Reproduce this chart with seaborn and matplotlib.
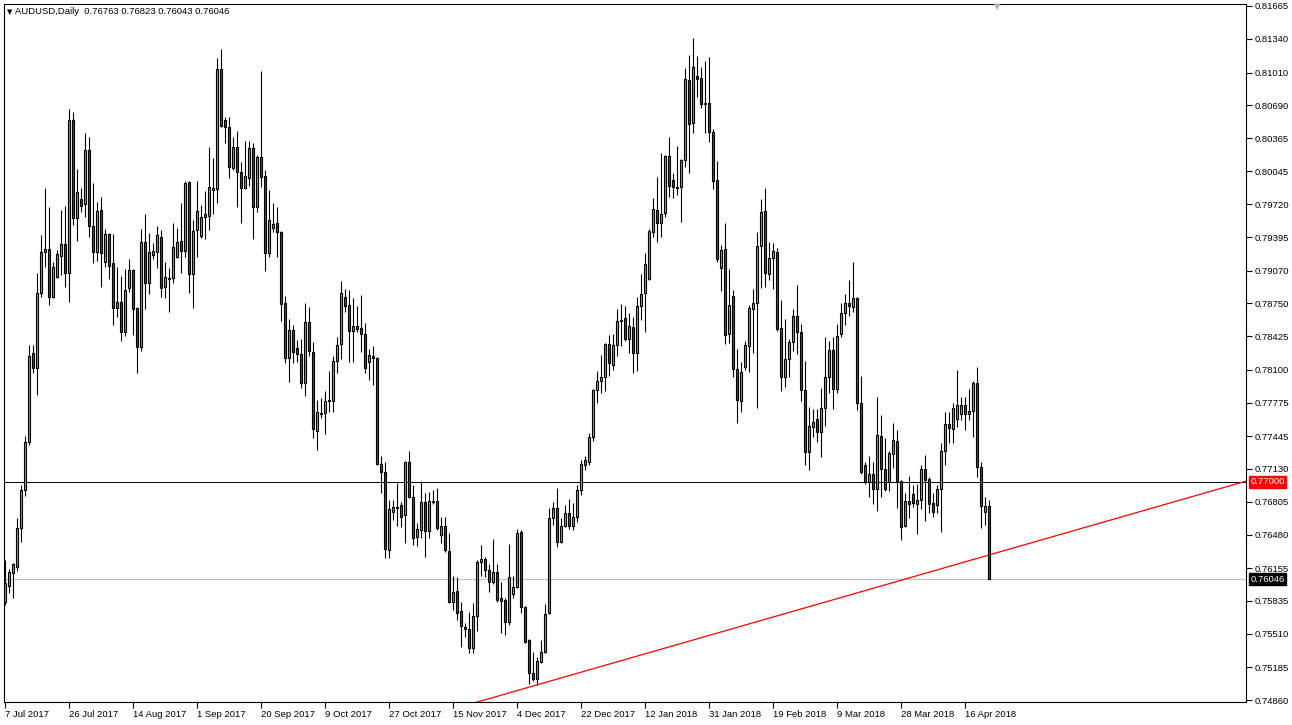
import numpy as np
import matplotlib
matplotlib.use("Agg")
import matplotlib.pyplot as plt
import seaborn as sns

# ---------------- data ----------------
symbol_title = "AUDUSD,Daily"
last_ohlc = [0.76763, 0.76823, 0.76043, 0.76046]

open_ = [0.7582,0.7598,0.7611,0.7617,0.7655,0.7692,0.7739,0.7826,0.7812,0.7885,
0.7925,0.7928,0.7881,0.7901,0.7921,0.7933,0.7905,0.8055,0.7959,0.7977,
0.7972,0.8025,0.7951,0.7925,0.7966,0.7915,0.7943,0.7914,0.7870,0.7876,
0.7847,0.7890,0.7908,0.7870,0.7832,0.7935,0.7895,0.7922,0.7925,0.7940,
0.7891,0.7899,0.7900,0.7920,0.7936,0.7926,0.7994,0.7904,0.7947,0.7941,
0.7960,0.7961,0.7986,0.7987,0.8105,0.8055,0.8048,0.8008,0.8028,0.8004,
0.7988,0.7998,0.8027,0.7969,0.8018,0.8000,0.7924,0.7949,0.7954,0.7945,
0.7875,0.7821,0.7849,0.7831,0.7825,0.7797,0.7857,0.7827,0.7750,0.7767,
0.7767,0.7779,0.7779,0.7818,0.7835,0.7881,0.7873,0.7848,0.7853,0.7851,
0.7845,0.7817,0.7823,0.7821,0.7717,0.7710,0.7633,0.7670,0.7675,0.7677,
0.7667,0.7719,0.7685,0.7646,0.7653,0.7680,0.7652,0.7681,0.7681,0.7648,
0.7657,0.7632,0.7582,0.7593,0.7573,0.7558,0.7556,0.7537,0.7568,0.7621,
0.7624,0.7614,0.7602,0.7612,0.7586,0.7584,0.7563,0.7590,0.7597,0.7651,
0.7577,0.7545,0.7513,0.7507,0.7523,0.7533,0.7571,0.7665,0.7674,0.7641,
0.7657,0.7669,0.7657,0.7666,0.7692,0.7716,0.7719,0.7744,0.7790,0.7799,
0.7803,0.7835,0.7814,0.7834,0.7858,0.7861,0.7840,0.7852,0.7826,0.7872,
0.7885,0.7899,0.7945,0.7966,0.7954,0.7963,0.8019,0.7996,0.7988,0.7989,
0.8015,0.8094,0.8052,0.8098,0.8096,0.8071,0.8071,0.8043,0.7996,0.7910,
0.7928,0.7845,0.7882,0.7811,0.7779,0.7813,0.7833,0.7869,0.7875,0.7931,
0.7965,0.7904,0.7919,0.7925,0.7851,0.7803,0.7820,0.7837,0.7863,0.7847,
0.7790,0.7729,0.7754,0.7762,0.7749,0.7772,0.7803,0.7829,0.7791,0.7845,
0.7865,0.7875,0.7871,0.7880,0.7777,0.7716,0.7700,0.7708,0.7693,0.7745,
0.7713,0.7700,0.7727,0.7740,0.7701,0.7657,0.7681,0.7688,0.7678,0.7682,
0.7713,0.7703,0.7679,0.7677,0.7693,0.7730,0.7757,0.7752,0.7762,0.7766,
0.7775,0.7766,0.7769,0.7797,0.7715,0.7670,0.76763]

high = [0.7623,0.7615,0.7620,0.7665,0.7697,0.7745,0.7834,0.7834,0.7905,0.7942,
0.7988,0.7969,0.7915,0.7927,0.7966,0.7970,0.8065,0.8062,0.8007,0.7988,
0.8042,0.8038,0.7993,0.7974,0.7979,0.7948,0.7944,0.7943,0.7911,0.7902,
0.7909,0.7918,0.7909,0.7871,0.7948,0.7962,0.7944,0.7934,0.7951,0.7947,
0.7915,0.7910,0.7954,0.7949,0.7973,0.7995,0.7995,0.7957,0.7995,0.7971,
0.7985,0.8028,0.8017,0.8115,0.8124,0.8058,0.8058,0.8038,0.8044,0.8013,
0.8034,0.8034,0.8032,0.8020,0.8103,0.8006,0.7986,0.7973,0.7969,0.7946,
0.7882,0.7860,0.7854,0.7839,0.7840,0.7875,0.7871,0.7837,0.7780,0.7782,
0.7789,0.7809,0.7823,0.7842,0.7897,0.7889,0.7888,0.7880,0.7872,0.7883,
0.7856,0.7830,0.7833,0.7822,0.7725,0.7719,0.7682,0.7682,0.7699,0.7680,
0.7720,0.7730,0.7697,0.7660,0.7701,0.7689,0.7690,0.7692,0.7694,0.7666,
0.7666,0.7650,0.7608,0.7607,0.7582,0.7562,0.7572,0.7581,0.7623,0.7638,
0.7626,0.7619,0.7644,0.7619,0.7602,0.7586,0.7639,0.7608,0.7654,0.7653,
0.7578,0.7546,0.7533,0.7528,0.7545,0.7580,0.7674,0.7680,0.7694,0.7665,
0.7677,0.7683,0.7679,0.7697,0.7721,0.7725,0.7748,0.7791,0.7809,0.7824,
0.7836,0.7844,0.7845,0.7869,0.7874,0.7872,0.7865,0.7862,0.7881,0.7904,
0.7924,0.7948,0.7978,0.7999,0.8022,0.8020,0.8038,0.8003,0.8029,0.8016,
0.8106,0.8118,0.8135,0.8117,0.8107,0.8112,0.8116,0.8046,0.8014,0.7932,
0.7954,0.7909,0.7888,0.7830,0.7817,0.7838,0.7873,0.7889,0.7945,0.7977,
0.7988,0.7935,0.7934,0.7929,0.7878,0.7860,0.7840,0.7869,0.7893,0.7855,
0.7818,0.7773,0.7771,0.7771,0.7792,0.7842,0.7838,0.7842,0.7855,0.7875,
0.7884,0.7898,0.7915,0.7881,0.7804,0.7719,0.7725,0.7719,0.7783,0.7765,
0.7743,0.7730,0.7758,0.7751,0.7702,0.7689,0.7706,0.7697,0.7698,0.7716,
0.7726,0.7705,0.7689,0.7697,0.7738,0.7768,0.7768,0.7777,0.7810,0.7783,
0.7783,0.7791,0.7799,0.7813,0.7719,0.7685,0.76823]

low = [0.7579,0.7591,0.7586,0.7613,0.7641,0.7686,0.7736,0.7807,0.7785,0.7881,
0.7911,0.7873,0.7880,0.7900,0.7903,0.7891,0.7876,0.7952,0.7936,0.7964,
0.7960,0.7940,0.7914,0.7916,0.7891,0.7911,0.7899,0.7854,0.7862,0.7838,
0.7843,0.7886,0.7844,0.7807,0.7828,0.7869,0.7884,0.7918,0.7910,0.7881,
0.7880,0.7866,0.7895,0.7919,0.7905,0.7920,0.7885,0.7870,0.7920,0.7939,
0.7938,0.7947,0.7962,0.7973,0.8048,0.8032,0.7998,0.8006,0.7969,0.7954,
0.7987,0.7990,0.7938,0.7964,0.7989,0.7907,0.7920,0.7945,0.7920,0.7858,
0.7816,0.7798,0.7816,0.7817,0.7792,0.7784,0.7823,0.7743,0.7731,0.7763,
0.7747,0.7768,0.7768,0.7807,0.7820,0.7866,0.7817,0.7817,0.7847,0.7827,
0.7807,0.7800,0.7795,0.7716,0.7689,0.7625,0.7625,0.7663,0.7657,0.7656,
0.7640,0.7684,0.7638,0.7637,0.7645,0.7626,0.7645,0.7678,0.7653,0.7640,
0.7631,0.7581,0.7574,0.7565,0.7538,0.7548,0.7532,0.7532,0.7554,0.7608,
0.7607,0.7592,0.7600,0.7582,0.7552,0.7550,0.7560,0.7586,0.7596,0.7571,
0.7542,0.7502,0.7505,0.7501,0.7522,0.7532,0.7570,0.7658,0.7636,0.7640,
0.7656,0.7654,0.7653,0.7661,0.7687,0.7712,0.7716,0.7740,0.7777,0.7787,
0.7789,0.7804,0.7810,0.7823,0.7833,0.7838,0.7826,0.7807,0.7809,0.7859,
0.7847,0.7898,0.7940,0.7935,0.7940,0.7960,0.7979,0.7978,0.7981,0.7955,
0.8009,0.8003,0.8042,0.8077,0.8066,0.8042,0.8033,0.7987,0.7915,0.7887,
0.7835,0.7836,0.7803,0.7758,0.7768,0.7810,0.7808,0.7826,0.7772,0.7890,
0.7891,0.7898,0.7889,0.7848,0.7789,0.7793,0.7803,0.7828,0.7825,0.7779,
0.7716,0.7712,0.7744,0.7739,0.7724,0.7755,0.7787,0.7771,0.7787,0.7842,
0.7854,0.7863,0.7866,0.7770,0.7708,0.7698,0.7685,0.7678,0.7671,0.7685,
0.7691,0.7691,0.7714,0.7674,0.7643,0.7656,0.7665,0.7675,0.7649,0.7673,
0.7662,0.7669,0.7666,0.7669,0.7651,0.7716,0.7738,0.7738,0.7754,0.7761,
0.7751,0.7761,0.7744,0.7705,0.7655,0.7658,0.76043]

close = [0.7601,0.7612,0.7619,0.7655,0.7692,0.7739,0.7823,0.7812,0.7885,0.7925,
0.7928,0.7881,0.7911,0.7923,0.7933,0.7905,0.8055,0.7959,0.7984,0.7970,
0.8025,0.7951,0.7925,0.7965,0.7924,0.7943,0.7912,0.7870,0.7876,0.7847,
0.7888,0.7908,0.7869,0.7832,0.7935,0.7895,0.7925,0.7926,0.7942,0.7890,
0.7901,0.7900,0.7930,0.7935,0.7926,0.7993,0.7904,0.7946,0.7965,0.7960,
0.7962,0.7989,0.7988,0.8105,0.8049,0.8048,0.8009,0.8028,0.8004,0.7988,
0.8000,0.8027,0.7969,0.8018,0.7999,0.7924,0.7957,0.7953,0.7945,0.7874,
0.7821,0.7849,0.7827,0.7825,0.7797,0.7857,0.7828,0.7752,0.7768,0.7766,
0.7779,0.7780,0.7818,0.7834,0.7885,0.7872,0.7848,0.7853,0.7850,0.7845,
0.7812,0.7824,0.7821,0.7717,0.7710,0.7634,0.7673,0.7675,0.7674,0.7666,
0.7719,0.7685,0.7645,0.7654,0.7680,0.7652,0.7681,0.7680,0.7655,0.7657,
0.7633,0.7582,0.7592,0.7571,0.7559,0.7556,0.7537,0.7568,0.7621,0.7624,
0.7614,0.7602,0.7612,0.7584,0.7583,0.7563,0.7607,0.7597,0.7650,0.7577,
0.7543,0.7513,0.7507,0.7524,0.7533,0.7570,0.7665,0.7674,0.7641,0.7657,
0.7669,0.7657,0.7666,0.7692,0.7717,0.7721,0.7744,0.7790,0.7799,0.7803,
0.7835,0.7816,0.7834,0.7858,0.7859,0.7840,0.7853,0.7826,0.7872,0.7884,
0.7913,0.7946,0.7967,0.7954,0.7962,0.8019,0.7990,0.7989,0.7989,0.8015,
0.8095,0.8051,0.8107,0.8095,0.8070,0.8070,0.8043,0.7995,0.7918,0.7927,
0.7844,0.7873,0.7811,0.7780,0.7808,0.7834,0.7870,0.7875,0.7931,0.7964,
0.7905,0.7919,0.7926,0.7850,0.7803,0.7820,0.7837,0.7863,0.7847,0.7790,
0.7729,0.7755,0.7759,0.7749,0.7772,0.7803,0.7829,0.7791,0.7843,0.7865,
0.7875,0.7872,0.7880,0.7777,0.7710,0.7700,0.7708,0.7693,0.7746,0.7713,
0.7693,0.7728,0.7741,0.7701,0.7656,0.7681,0.7678,0.7679,0.7682,0.7713,
0.7702,0.7678,0.7670,0.7693,0.7730,0.7757,0.7753,0.7772,0.7775,0.7775,
0.7766,0.7769,0.7797,0.7715,0.7676,0.7676,0.76046]

date_labels = ["7 Jul 2017", "26 Jul 2017", "14 Aug 2017", "1 Sep 2017", "20 Sep 2017",
               "9 Oct 2017", "27 Oct 2017", "15 Nov 2017", "4 Dec 2017", "22 Dec 2017",
               "12 Jan 2018", "31 Jan 2018", "19 Feb 2018", "9 Mar 2018", "28 Mar 2018",
               "16 Apr 2018"]
date_label_bars = [0, 16, 32, 48, 64, 80, 96, 112, 128, 144, 160, 176, 192, 208, 224, 240]

price_ticks = [0.81665, 0.81340, 0.81010, 0.80690, 0.80365, 0.80045, 0.79720, 0.79395,
               0.79070, 0.78750, 0.78425, 0.78100, 0.77775, 0.77445, 0.77130, 0.76805,
               0.76480, 0.76155, 0.75835, 0.75510, 0.75185, 0.74860]

hline_level = 0.77000
bid_level = 0.76046
trend_anchor_bars = [133, 246]
trend_anchor_prices = [0.7501, 0.76283]

# ---------------- figure ----------------
sns.set_theme(style="white")
plt.rcParams['font.family'] = ['Liberation Sans', 'DejaVu Sans']
FS = 6.8

W, H = 1292, 725
fig = plt.figure(figsize=(W / 100, H / 100), dpi=100)
ax = fig.add_axes([4 / W, (H - 702) / H, (1246 - 4) / W, (702 - 4) / H])
ax.set_facecolor("white")

n = len(open_)
xs = np.arange(n)
o = np.array(open_); c = np.array(close); hi = np.array(high); lo = np.array(low)
up = c >= o
colors = np.where(up, "#00FF00", "#FF0000")

x_min, x_max = -0.25, 310.25
y_min, y_max = 0.74842, 0.81683

# reference lines
ax.axhline(bid_level, color="#C0C0C0", lw=0.8, zorder=1)
ax.axhline(hline_level, color="black", lw=0.7, zorder=1)

# trend line (ray through the two anchors)
slope = (trend_anchor_prices[1] - trend_anchor_prices[0]) / (trend_anchor_bars[1] - trend_anchor_bars[0])
tx = np.array([x_min, x_max])
ty = trend_anchor_prices[0] + slope * (tx - trend_anchor_bars[0])
sns.lineplot(x=tx, y=ty, color="#FF0000", lw=0.9, ax=ax, zorder=2, legend=False)

# candles
ax.vlines(xs, lo, hi, color="black", lw=0.8, zorder=3)
ax.bar(xs, np.abs(c - o), bottom=np.minimum(o, c), width=0.55, color=colors,
       edgecolor="black", linewidth=0.8, zorder=4)

ax.set_xlim(x_min, x_max)
ax.set_ylim(y_min, y_max)

for s in ax.spines.values():
    s.set_color("black")
    s.set_linewidth(0.8)

# right price axis
ax.yaxis.tick_right()
ax.set_yticks(price_ticks)
ax.set_yticklabels([f"{p:.5f}" for p in price_ticks])
ax.tick_params(axis="y", which="both", right=True, left=False, direction="out",
               length=4, width=0.8, color="black", labelsize=FS, pad=2, labelcolor="black")

# bottom date axis
ax.set_xticks(date_label_bars)
ax.set_xticklabels(date_labels, ha="left")
ax.tick_params(axis="x", bottom=True, direction="out", length=4, width=0.8,
               color="black", labelsize=FS, pad=2, labelcolor="black")
for lab in ax.get_xticklabels():
    lab.set_horizontalalignment("left")

# highlighted price labels on the axis
for lvl, bg in [(hline_level, "#FF0000"), (bid_level, "black")]:
    ax.annotate(f"{lvl:.5f}", xy=(1.0, lvl), xycoords=("axes fraction", "data"),
                xytext=(3, 0), textcoords="offset points", ha="left", va="center",
                fontsize=FS, color="white",
                bbox=dict(boxstyle="square,pad=0.15", fc=bg, ec=bg), zorder=10,
                annotation_clip=False)

# title
o_, h_, l_, c_ = last_ohlc
fig.text(7 / W, 1 - 12 / H, "\u25BC", fontsize=5, color="black", va="center", ha="left",
         family="DejaVu Sans")
fig.text(15 / W, 1 - 12 / H, f"{symbol_title}  {o_:.5f} {h_:.5f} {l_:.5f} {c_:.5f}",
         fontsize=FS, color="black", va="center", ha="left")

# chart shift marker
fig.text(997 / W, 1 - 7 / H, "\u25BC", fontsize=6, color="#B0B0B0", va="center", ha="center",
         family="DejaVu Sans")

fig.savefig("out.png", dpi=100, facecolor="white")
